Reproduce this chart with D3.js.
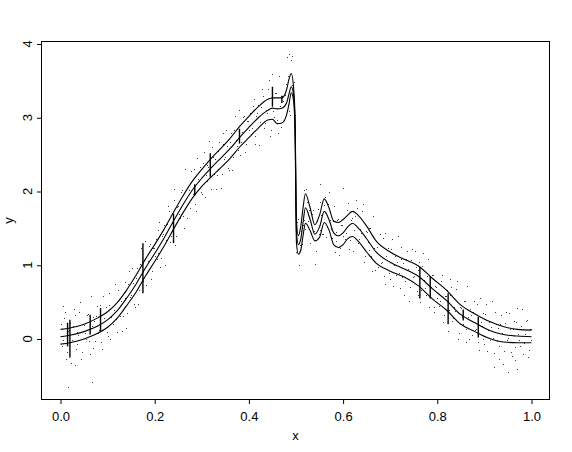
<!DOCTYPE html>
<html lang="en">
<head>
<meta charset="utf-8">
<title>Fit with bands</title>
<script src="https://d3js.org/d3.v7.min.js"></script>
<style>
  body { margin: 0; background: #fff; }
  text { font-family: "Liberation Sans", Arial, sans-serif; fill: #000; }
</style>
</head>
<body>
<div id="chart"></div>
<script>
// ---- data ----
var gridX = [0, 0.02, 0.05, 0.08, 0.10, 0.12, 0.14, 0.16, 0.18, 0.20, 0.22, 0.24, 0.26, 0.28, 0.30,
  0.32, 0.34, 0.36, 0.38, 0.40, 0.42, 0.44, 0.45, 0.46, 0.47, 0.48, 0.485, 0.49, 0.495, 0.498,
  0.501, 0.505, 0.51, 0.515, 0.52, 0.53, 0.54, 0.55, 0.56, 0.57, 0.58, 0.59, 0.60, 0.61, 0.62,
  0.63, 0.65, 0.67, 0.70, 0.73, 0.76, 0.79, 0.82, 0.85, 0.88, 0.91, 0.94, 0.97, 1.00];

var fitMid = [0.03, 0.05, 0.10, 0.18, 0.26, 0.38, 0.55, 0.74, 0.96, 1.16, 1.37, 1.60, 1.82, 2.02, 2.18,
  2.32, 2.45, 2.58, 2.73, 2.87, 3.00, 3.10, 3.13, 3.12, 3.13, 3.20, 3.32, 3.42, 3.30, 2.90,
  1.45, 1.28, 1.35, 1.58, 1.78, 1.62, 1.42, 1.52, 1.73, 1.62, 1.44, 1.40, 1.44, 1.52, 1.57,
  1.52, 1.36, 1.18, 1.04, 0.95, 0.85, 0.68, 0.52, 0.33, 0.22, 0.12, 0.06, 0.04, 0.03];

var fitUpper = [0.13, 0.15, 0.20, 0.29, 0.37, 0.49, 0.66, 0.86, 1.08, 1.28, 1.49, 1.72, 1.94, 2.14, 2.30,
  2.45, 2.58, 2.72, 2.88, 3.02, 3.15, 3.25, 3.27, 3.27, 3.27, 3.38, 3.52, 3.60, 3.40, 3.00,
  1.60, 1.40, 1.52, 1.78, 1.97, 1.78, 1.55, 1.68, 1.90, 1.78, 1.60, 1.58, 1.62, 1.68, 1.73,
  1.69, 1.53, 1.33, 1.18, 1.08, 0.99, 0.82, 0.66, 0.46, 0.34, 0.24, 0.17, 0.13, 0.12];

var fitLower = [-0.07, -0.05, 0.00, 0.08, 0.16, 0.28, 0.45, 0.63, 0.85, 1.05, 1.26, 1.49, 1.71, 1.91, 2.07,
  2.20, 2.32, 2.45, 2.60, 2.73, 2.86, 2.97, 2.98, 2.92, 2.93, 3.04, 3.18, 3.34, 3.22, 2.80,
  1.30, 1.15, 1.20, 1.40, 1.57, 1.47, 1.33, 1.38, 1.58, 1.48, 1.28, 1.24, 1.28, 1.36, 1.39,
  1.34, 1.18, 1.03, 0.92, 0.84, 0.72, 0.54, 0.39, 0.20, 0.10, 0.01, -0.04, -0.05, -0.05];

// vertical jumps of the rough estimate: [x, from, to]
var spikes = [[0.015, -0.10, 0.22], [0.020, -0.25, 0.26], [0.063, 0.06, 0.33], [0.085, 0.10, 0.42],
  [0.175, 0.62, 1.30], [0.24, 1.30, 1.70], [0.285, 1.95, 2.10], [0.318, 2.20, 2.52],
  [0.38, 2.65, 2.85], [0.45, 3.15, 3.42], [0.47, 3.20, 3.30], [0.763, 0.55, 0.98],
  [0.785, 0.55, 0.85], [0.823, 0.20, 0.62], [0.855, 0.25, 0.40], [0.887, 0.02, 0.30]];

var dots = [
  [0.002,0.21],[0.006,-0.02],[0.010,0.36],[0.014,-0.17],[0.018,0.12],[0.022,-0.33],[0.026,0.18],[0.030,0.32],
  [0.034,-0.07],[0.038,0.06],[0.042,0.50],[0.046,-0.18],[0.050,0.19],[0.054,0.00],[0.058,0.34],[0.062,-0.20],
  [0.066,0.17],[0.070,0.30],[0.074,-0.03],[0.078,0.45],[0.082,0.12],[0.086,-0.04],[0.090,0.58],[0.094,0.25],
  [0.098,0.09],[0.102,0.46],[0.106,0.00],[0.110,0.43],[0.114,0.39],[0.118,0.27],[0.122,0.67],[0.126,0.31],
  [0.130,0.11],[0.134,0.64],[0.138,0.55],[0.142,0.35],[0.146,0.92],[0.150,0.60],[0.154,0.76],[0.158,0.44],
  [0.162,0.96],[0.166,0.66],[0.170,1.23],[0.174,0.83],[0.178,1.07],[0.182,0.73],[0.186,1.06],[0.190,1.29],
  [0.194,0.92],[0.198,1.24],[0.202,1.36],[0.206,1.17],[0.210,1.59],[0.214,1.10],[0.218,1.42],[0.222,1.01],
  [0.226,1.56],[0.230,1.73],[0.234,1.39],[0.238,1.56],[0.242,2.03],[0.246,1.40],[0.250,1.80],[0.254,1.64],
  [0.258,2.02],[0.262,1.51],[0.266,1.91],[0.270,2.07],[0.274,1.77],[0.278,2.28],[0.282,1.97],[0.286,1.83],
  [0.290,2.46],[0.294,2.14],[0.298,2.00],[0.302,2.38],[0.306,1.92],[0.310,2.36],[0.314,2.33],[0.318,2.22],
  [0.322,2.60],[0.326,2.24],[0.330,2.04],[0.334,2.55],[0.338,2.46],[0.342,2.24],[0.346,2.80],[0.350,2.47],
  [0.354,2.62],[0.358,2.29],[0.362,2.79],[0.366,2.47],[0.370,3.03],[0.374,2.62],[0.378,2.84],[0.382,2.49],
  [0.386,2.81],[0.390,3.03],[0.394,2.65],[0.398,2.96],[0.402,3.06],[0.406,2.86],[0.410,3.26],[0.414,2.75],
  [0.418,3.06],[0.422,2.63],[0.426,3.15],[0.430,3.30],[0.434,2.93],[0.438,3.07],[0.442,3.51],[0.446,2.84],
  [0.450,3.21],[0.454,3.01],[0.458,3.34],[0.462,2.79],[0.466,3.16],[0.470,3.29],[0.474,2.97],[0.478,3.46],
  [0.482,3.17],[0.486,3.09],[0.490,3.78],[0.494,3.36],[0.498,3.04],[0.502,1.59],[0.506,1.00],[0.510,1.46],
  [0.514,1.55],[0.518,1.61],[0.522,2.04],[0.526,1.60],[0.530,1.30],[0.534,1.69],[0.538,1.47],[0.542,1.20],
  [0.546,1.76],[0.550,1.48],[0.554,1.68],[0.558,1.42],[0.562,1.92],[0.566,1.52],[0.570,2.00],[0.574,1.49],
  [0.578,1.60],[0.582,1.18],[0.586,1.45],[0.590,1.63],[0.594,1.24],[0.598,1.54],[0.602,1.64],[0.606,1.44],
  [0.610,1.84],[0.614,1.34],[0.618,1.64],[0.622,1.19],[0.626,1.67],[0.630,1.77],[0.634,1.35],[0.638,1.44],
  [0.642,1.83],[0.646,1.12],[0.650,1.45],[0.654,1.21],[0.658,1.51],[0.662,0.92],[0.666,1.24],[0.670,1.33],
  [0.674,0.97],[0.678,1.42],[0.682,1.05],[0.686,0.86],[0.690,1.44],[0.694,1.07],[0.698,0.89],[0.702,1.22],
  [0.706,0.72],[0.710,1.12],[0.714,1.05],[0.718,0.90],[0.722,1.25],[0.726,0.84],[0.730,0.60],[0.734,1.08],
  [0.738,0.95],[0.742,0.70],[0.746,1.22],[0.750,0.86],[0.754,0.97],[0.758,0.59],[0.762,1.04],[0.766,0.66],
  [0.770,1.16],[0.774,0.69],[0.778,0.85],[0.782,0.44],[0.786,0.70],[0.790,0.87],[0.794,0.44],[0.798,0.70],
  [0.802,0.76],[0.806,0.51],[0.810,0.87],[0.814,0.32],[0.818,0.58],[0.822,0.11],[0.826,0.59],[0.830,0.70],
  [0.834,0.28],[0.838,0.38],[0.842,0.79],[0.846,0.08],[0.850,0.42],[0.854,0.21],[0.858,0.52],[0.862,-0.04],
  [0.866,0.30],[0.870,0.41],[0.874,0.05],[0.878,0.51],[0.882,0.14],[0.886,-0.04],[0.890,0.55],[0.894,0.18],
  [0.898,0.00],[0.902,0.34],[0.906,-0.16],[0.910,0.23],[0.914,0.16],[0.918,0.01],[0.922,0.36],[0.926,-0.03],
  [0.930,-0.27],[0.934,0.21],[0.938,0.08],[0.942,-0.16],[0.946,0.36],[0.950,0.01],[0.954,0.13],[0.958,-0.23],
  [0.962,0.24],[0.966,-0.11],[0.970,0.42],[0.974,-0.02],[0.978,0.17],[0.982,-0.21],[0.986,0.07],[0.990,0.26],
  [0.994,-0.15],[0.998,0.13],
  [0.016,-0.65],[0.067,-0.58],[0.480,3.82],[0.485,3.86],[0.492,3.84],[0.950,-0.45],[0.970,-0.40],
  [0.920,-0.38],[0.600,2.05],[0.550,2.10],[0.005,0.45],[0.030,-0.35],[0.450,3.60]
];

var dots2 = [
  [0.004,-0.09],[0.008,0.28],[0.012,-0.27],[0.016,0.11],[0.020,0.22],[0.024,-0.02],[0.028,0.41],[0.032,-0.13],
  [0.036,0.10],[0.040,0.37],[0.044,-0.27],[0.048,0.20],[0.052,0.08],[0.056,0.33],[0.060,-0.03],[0.064,0.58],
  [0.068,-0.12],[0.072,0.24],[0.076,0.31],[0.080,0.08],[0.084,0.46],[0.088,-0.13],[0.092,0.28],[0.096,0.43],
  [0.100,0.04],[0.104,0.62],[0.108,0.30],[0.112,0.20],[0.116,0.75],[0.120,0.09],[0.124,0.54],[0.128,0.52],
  [0.132,0.31],[0.136,0.77],[0.140,0.15],[0.144,0.75],[0.148,0.57],[0.152,0.96],[0.156,0.47],[0.160,0.83],
  [0.164,0.47],[0.168,1.02],[0.172,0.90],[0.176,0.78],[0.180,1.33],[0.184,0.91],[0.188,1.26],[0.192,0.81],
  [0.196,1.23],[0.200,1.12],[0.204,1.08],[0.208,1.48],[0.212,0.98],[0.216,1.39],[0.220,1.54],[0.224,1.34],
  [0.228,1.81],[0.232,1.31],[0.236,1.57],[0.240,1.89],[0.244,1.28],[0.248,1.79],[0.252,1.70],[0.256,1.99],
  [0.260,1.67],[0.264,2.30],[0.268,1.64],[0.272,2.02],[0.276,2.12],[0.280,1.92],[0.284,2.31],[0.288,1.74],
  [0.292,2.17],[0.296,2.33],[0.300,1.96],[0.304,2.54],[0.308,2.23],[0.312,2.14],[0.316,2.69],[0.320,2.03],
  [0.324,2.47],[0.328,2.44],[0.332,2.23],[0.336,2.67],[0.340,2.05],[0.344,2.64],[0.348,2.44],[0.352,2.83],
  [0.356,2.32],[0.360,2.67],[0.364,2.29],[0.368,2.83],[0.372,2.70],[0.376,2.56],[0.380,3.10],[0.384,2.67],
  [0.388,3.01],[0.392,2.54],[0.396,2.95],[0.400,2.83],[0.404,2.78],[0.408,3.16],[0.412,2.64],[0.416,3.03],
  [0.420,3.17],[0.424,2.94],[0.428,3.39],[0.432,2.86],[0.436,3.10],[0.440,3.39],[0.444,2.75],[0.448,3.22],
  [0.452,3.09],[0.456,3.33],[0.460,2.97],[0.464,3.57],[0.468,2.87],[0.472,3.23],[0.476,3.31],[0.480,3.10],
  [0.484,3.56],[0.488,3.04],[0.492,3.45],[0.496,3.48],[0.500,1.18],[0.504,1.63],[0.508,1.27],[0.512,1.29],
  [0.516,2.02],[0.520,1.49],[0.524,1.86],[0.528,1.75],[0.532,1.43],[0.536,1.75],[0.540,1.02],[0.544,1.60],
  [0.548,1.43],[0.552,1.86],[0.556,1.42],[0.560,1.82],[0.564,1.38],[0.568,1.83],[0.572,1.61],[0.576,1.37],
  [0.580,1.81],[0.584,1.33],[0.588,1.62],[0.592,1.14],[0.596,1.54],[0.600,1.40],[0.604,1.35],[0.608,1.75],
  [0.612,1.22],[0.616,1.62],[0.620,1.74],[0.624,1.48],[0.628,1.88],[0.632,1.30],[0.636,1.49],[0.640,1.73],
  [0.644,1.04],[0.648,1.47],[0.652,1.31],[0.656,1.51],[0.660,1.12],[0.664,1.67],[0.668,0.94],[0.672,1.25],
  [0.676,1.29],[0.680,1.03],[0.684,1.37],[0.688,0.75],[0.692,1.12],[0.696,1.23],[0.700,0.82],[0.704,1.36],
  [0.708,1.01],[0.712,0.87],[0.716,1.39],[0.720,0.69],[0.724,1.09],[0.728,1.03],[0.732,0.78],[0.736,1.19],
  [0.740,0.52],[0.744,1.07],[0.748,0.84],[0.752,1.19],[0.756,0.65],[0.760,0.94],[0.764,0.50],[0.768,0.99],
  [0.772,0.80],[0.776,0.60],[0.780,1.08],[0.784,0.59],[0.788,0.87],[0.792,0.36],[0.796,0.72],[0.800,0.55],
  [0.804,0.45],[0.808,0.79],[0.812,0.23],[0.816,0.58],[0.820,0.67],[0.824,0.40],[0.828,0.81],[0.832,0.24],
  [0.836,0.43],[0.840,0.68],[0.844,0.00],[0.848,0.44],[0.852,0.30],[0.856,0.52],[0.860,0.14],[0.864,0.72],
  [0.868,0.00],[0.872,0.33],[0.876,0.37],[0.880,0.12],[0.884,0.47],[0.888,-0.15],[0.892,0.23],[0.896,0.35],
  [0.900,-0.07],[0.904,0.47],[0.908,0.12],[0.912,-0.01],[0.916,0.51],[0.920,-0.19],[0.924,0.21],[0.928,0.15],
  [0.932,-0.10],[0.936,0.32],[0.940,-0.34],[0.944,0.22],[0.948,-0.01],[0.952,0.35],[0.956,-0.18],[0.960,0.13],
  [0.964,-0.28],[0.968,0.23],[0.972,0.07],[0.976,-0.10],[0.980,0.41],[0.984,-0.06],[0.988,0.25],[0.992,-0.24],
  [0.996,0.14],[1.000,-0.01]
];

var xTicks = [0, 0.2, 0.4, 0.6, 0.8, 1.0];
var yTicks = [0, 1, 2, 3, 4];

// ---- layout ----
var W = 572, H = 452;
var svg = d3.select("#chart").append("svg")
  .attr("width", W).attr("height", H)
  .style("background", "#fff");

var x = d3.scaleLinear().domain([-0.0414, 1.0393]).range([41, 550]);
var y = d3.scaleLinear().domain([-0.827, 4.0407]).range([400, 41]);

// points (pch = ".")
svg.append("g").selectAll("rect")
  .data(dots.concat(dots2))
  .enter().append("rect")
    .attr("x", function(d) { return Math.round(x(d[0])); })
    .attr("y", function(d) { return Math.round(y(d[1])); })
    .attr("width", 1).attr("height", 1)
    .style("fill", "#3a3a3a");

// fitted line and bands
var series = [fitUpper, fitMid, fitLower];
series.forEach(function(s) {
  var line = d3.line()
    .x(function(d, i) { return x(gridX[i]); })
    .y(function(d) { return y(d); })
    .curve(d3.curveMonotoneX);
  svg.append("path")
    .datum(s)
    .attr("d", line)
    .style("fill", "none")
    .style("stroke", "#000")
    .style("stroke-width", 1.1);
});

// spikes
svg.append("g").selectAll("line")
  .data(spikes)
  .enter().append("line")
    .attr("x1", function(d) { return x(d[0]); })
    .attr("x2", function(d) { return x(d[0]); })
    .attr("y1", function(d) { return y(d[1]); })
    .attr("y2", function(d) { return y(d[2]); })
    .style("stroke", "#000")
    .style("stroke-width", 1.4);

// box
svg.append("rect")
  .attr("x", 41.5).attr("y", 41.5)
  .attr("width", 508).attr("height", 358)
  .style("fill", "none").style("stroke", "#000").style("stroke-width", 1);

// x axis
var xAxis = svg.append("g")
  .attr("transform", "translate(0,400)")
  .call(d3.axisBottom(x).tickValues(xTicks).tickFormat(d3.format(".1f")).tickSize(4).tickPadding(8).tickSizeOuter(0));
xAxis.select(".domain").remove();
xAxis.selectAll("text").style("font-size", "13px").style("font-family", "Liberation Sans, Arial, sans-serif");

// y axis: ticks only, labels rotated like base R
var yAxis = svg.append("g")
  .attr("transform", "translate(41,0)")
  .call(d3.axisLeft(y).tickValues(yTicks).tickFormat("").tickSize(4).tickSizeOuter(0));
yAxis.select(".domain").remove();

svg.append("g").selectAll("text")
  .data(yTicks)
  .enter().append("text")
    .attr("transform", function(d) { return "translate(32," + y(d) + ") rotate(-90)"; })
    .attr("text-anchor", "middle")
    .style("font-size", "13px")
    .text(function(d) { return d; });

// axis titles
svg.append("text")
  .attr("x", 295.5).attr("y", 440)
  .attr("text-anchor", "middle")
  .style("font-size", "13px")
  .text("x");

svg.append("text")
  .attr("transform", "translate(13,220.5) rotate(-90)")
  .attr("text-anchor", "middle")
  .style("font-size", "13px")
  .text("y");
</script>
</body>
</html>
